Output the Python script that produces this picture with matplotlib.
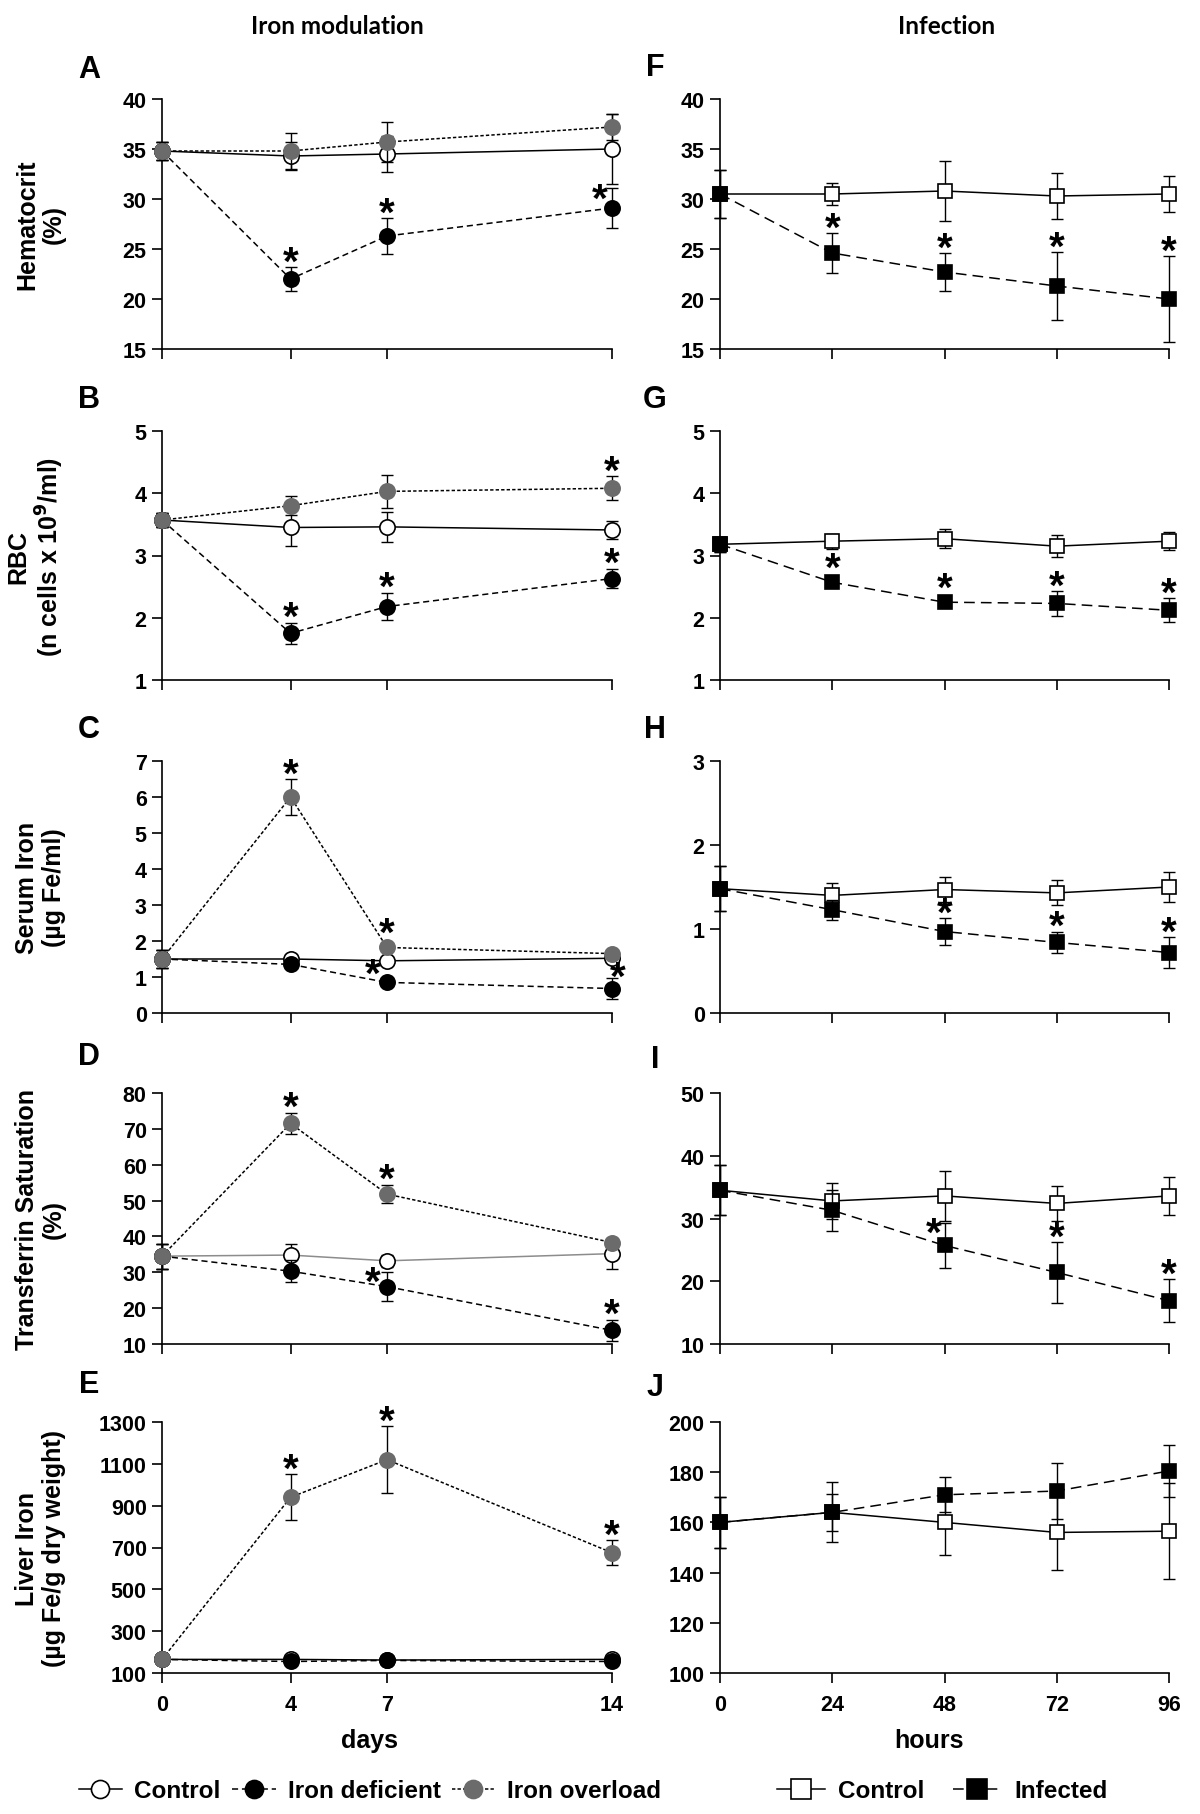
import matplotlib
matplotlib.use("Agg")
import matplotlib.pyplot as plt
from matplotlib.lines import Line2D

plt.rcParams['font.family'] = ['Liberation Sans', 'DejaVu Sans']
plt.rcParams['font.weight'] = 'bold'
plt.rcParams['axes.labelweight'] = 'bold'

# ---------------- data ----------------
days = [0, 4, 7, 14]
hours = [0, 24, 48, 72, 96]

# A Hematocrit (%) - iron modulation
hct_ctrl = [34.8, 34.3, 34.5, 35.0]
hct_ctrl_err = [0.9, 1.4, 1.8, 3.5]
hct_def = [34.8, 22.0, 26.3, 29.1]
hct_def_err = [0.9, 1.2, 1.8, 2.0]
hct_ovl = [34.8, 34.8, 35.7, 37.2]
hct_ovl_err = [0.9, 1.8, 2.0, 1.3]
hct_def_sig = [0, 1, 1, 1]
hct_ovl_sig = [0, 0, 0, 0]

# B RBC
rbc_ctrl = [3.57, 3.45, 3.46, 3.41]
rbc_ctrl_err = [0.12, 0.30, 0.24, 0.15]
rbc_def = [3.57, 1.75, 2.18, 2.63]
rbc_def_err = [0.12, 0.17, 0.22, 0.16]
rbc_ovl = [3.57, 3.80, 4.03, 4.08]
rbc_ovl_err = [0.12, 0.15, 0.26, 0.19]
rbc_def_sig = [0, 1, 1, 1]
rbc_ovl_sig = [0, 0, 0, 1]

# C Serum iron
si_ctrl = [1.50, 1.50, 1.45, 1.52]
si_ctrl_err = [0.25, 0.15, 0.10, 0.08]
si_def = [1.50, 1.35, 0.85, 0.68]
si_def_err = [0.25, 0.08, 0.08, 0.28]
si_ovl = [1.50, 6.00, 1.82, 1.65]
si_ovl_err = [0.25, 0.50, 0.10, 0.08]
si_def_sig = [0, 0, 1, 1]
si_ovl_sig = [0, 1, 1, 0]

# D Transferrin saturation
tsat_ctrl = [34.5, 34.8, 33.2, 35.2]
tsat_ctrl_err = [3.5, 3.0, 1.7, 4.3]
tsat_def = [34.5, 30.3, 26.0, 13.8]
tsat_def_err = [3.5, 3.0, 4.0, 3.0]
tsat_ovl = [34.5, 71.5, 51.8, 38.3]
tsat_ovl_err = [3.5, 3.0, 2.6, 1.0]
tsat_def_sig = [0, 0, 1, 1]
tsat_ovl_sig = [0, 1, 1, 0]

# E Liver iron
li_ctrl = [165, 165, 162, 165]
li_ctrl_err = [8, 6, 6, 6]
li_def = [165, 155, 160, 155]
li_def_err = [8, 6, 6, 6]
li_ovl = [165, 940, 1120, 675]
li_ovl_err = [8, 110, 160, 60]
li_def_sig = [0, 0, 0, 0]
li_ovl_sig = [0, 1, 1, 1]

# F Hematocrit - infection
inf_hct_ctrl = [30.5, 30.5, 30.8, 30.3, 30.5]
inf_hct_ctrl_err = [2.4, 1.1, 3.0, 2.3, 1.8]
inf_hct_inf = [30.5, 24.6, 22.7, 21.3, 20.0]
inf_hct_inf_err = [2.4, 2.0, 1.9, 3.4, 4.3]
inf_hct_sig = [0, 1, 1, 1, 1]

# G RBC - infection
inf_rbc_ctrl = [3.18, 3.23, 3.27, 3.15, 3.23]
inf_rbc_ctrl_err = [0.12, 0.12, 0.15, 0.18, 0.14]
inf_rbc_inf = [3.18, 2.57, 2.25, 2.23, 2.12]
inf_rbc_inf_err = [0.12, 0.04, 0.04, 0.20, 0.19]
inf_rbc_sig = [0, 1, 1, 1, 1]

# H Serum iron - infection
inf_si_ctrl = [1.48, 1.40, 1.47, 1.43, 1.50]
inf_si_ctrl_err = [0.27, 0.15, 0.15, 0.15, 0.18]
inf_si_inf = [1.48, 1.23, 0.97, 0.84, 0.72]
inf_si_inf_err = [0.27, 0.12, 0.16, 0.13, 0.18]
inf_si_sig = [0, 0, 1, 1, 1]

# I Transferrin saturation - infection
inf_tsat_ctrl = [34.5, 32.8, 33.6, 32.4, 33.6]
inf_tsat_ctrl_err = [4.0, 2.9, 4.0, 2.8, 3.0]
inf_tsat_inf = [34.5, 31.3, 25.7, 21.4, 16.9]
inf_tsat_inf_err = [4.0, 3.3, 3.6, 4.8, 3.4]
inf_tsat_sig = [0, 0, 1, 1, 1]

# J Liver iron - infection
inf_li_ctrl = [160, 164, 160, 156, 156.5]
inf_li_ctrl_err = [10, 7.5, 13, 15, 19]
inf_li_inf = [160, 164, 171, 172.5, 180.5]
inf_li_inf_err = [10, 12, 7, 11, 10.5]
inf_li_sig = [0, 0, 0, 0, 0]

left_ylabels = ["Hematocrit\n(%)", "RBC\n(n cells x 10$^{\\mathbf{9}}$/ml)",
                "Serum Iron\n(\u00b5g Fe/ml)", "Transferrin Saturation\n(%)",
                "Liver Iron\n(\u00b5g Fe/g dry weight)"]
left_letters = ["A", "B", "C", "D", "E"]
right_letters = ["F", "G", "H", "I", "J"]
left_ylims = [(15, 40, 5), (1, 5, 1), (0, 7, 1), (10, 80, 10), (100, 1300, 200)]
right_ylims = [(15, 40, 5), (1, 5, 1), (0, 3, 1), (10, 50, 10), (100, 200, 20)]

# ---------------- styles ----------------
GRAY = '#6b6b6b'
sty_ctrl = dict(marker='o', mfc='white', mec='black', color='black', ls='-')
sty_def = dict(marker='o', mfc='black', mec='black', color='black', ls=(0, (4, 2.5)))
sty_ovl = dict(marker='o', mfc=GRAY, mec=GRAY, color='black', ls=(0, (2.2, 1.4)))
sty_ictrl = dict(marker='s', mfc='white', mec='black', color='black', ls='-')
sty_iinf = dict(marker='s', mfc='black', mec='black', color='black', ls=(0, (7, 4)))

MS_C = 11
MS_S = 10.5
STAR_FS = 29
STAR_CENTER = 0.47 * STAR_FS   # asterisk centre above baseline (pt)
TICK_FS = 15.5
LABEL_FS = 18

fig = plt.figure(figsize=(12, 18.15), dpi=100)
W, H = 1200.0, 1815.0
rows = [(100, 350), (432, 681), (762, 1014), (1094, 1345), (1423, 1674)]
LX0, LX1 = 162, 612
RX0, RX1 = 720, 1169


def add_ax(x0, x1, top, bot):
    return fig.add_axes([x0 / W, 1 - bot / H, (x1 - x0) / W, (bot - top) / H])


def draw_series(ax, x, y, e, sty, ms, lw=1.1, z=3):
    ax.plot(x, y, ls=sty['ls'], color=sty['color'], lw=lw, zorder=z, clip_on=False)
    ax.errorbar(x, y, yerr=e, fmt='none', ecolor='black', elinewidth=1.0,
                capsize=4.5, capthick=1.0, zorder=z + 0.1, clip_on=False)
    ax.plot(x, y, ls='none', marker=sty['marker'], ms=ms, mfc=sty['mfc'],
            mec=sty['mec'], mew=1.2, zorder=z + 0.2, clip_on=False)


def draw_stars(ax, x, y, e, sig, ms, offsets=None):
    offsets = offsets or {}
    lo, hi = ax.get_ylim()
    pts_per_unit = ax.get_position().height * fig.get_figheight() * 72.0 / (hi - lo)
    for i, s in enumerate(sig):
        if not s:
            continue
        if i in offsets:
            dx, gap = offsets[i]
            base = 0.0
        else:
            dx, gap = 0.0, 9.0
            # clear the marker when the error bar is tiny
            base = max(0.0, ms / 2.0 + 1.0 - e[i] * pts_per_unit)
        ax.annotate('*', xy=(x[i], y[i] + e[i]), xytext=(dx, base + gap - STAR_CENTER),
                    textcoords='offset points', ha='center', va='baseline',
                    fontsize=STAR_FS, fontweight='bold', zorder=10,
                    annotation_clip=False)


def style_axis(ax, xt, ylim, bottom_row):
    lo, hi, step = ylim
    ax.set_ylim(lo, hi)
    ticks = []
    v = lo
    while v <= hi + 1e-9:
        ticks.append(v)
        v += step
    ax.set_yticks(ticks)
    ax.set_yticklabels([("%g" % t) for t in ticks])
    ax.set_xlim(xt[0], xt[-1])
    ax.set_xticks(xt)
    if bottom_row:
        ax.set_xticklabels([str(t) for t in xt])
    else:
        ax.set_xticklabels([])
    for s in ['top', 'right']:
        ax.spines[s].set_visible(False)
    for s in ['left', 'bottom']:
        ax.spines[s].set_linewidth(1.2)
    ax.tick_params(direction='out', length=7, width=1.2, labelsize=TICK_FS, pad=4)
    ax.tick_params(axis='x', pad=8)
    ax.patch.set_alpha(0)


left_data = [
    (hct_ctrl, hct_ctrl_err, hct_def, hct_def_err, hct_ovl, hct_ovl_err, hct_def_sig, hct_ovl_sig),
    (rbc_ctrl, rbc_ctrl_err, rbc_def, rbc_def_err, rbc_ovl, rbc_ovl_err, rbc_def_sig, rbc_ovl_sig),
    (si_ctrl, si_ctrl_err, si_def, si_def_err, si_ovl, si_ovl_err, si_def_sig, si_ovl_sig),
    (tsat_ctrl, tsat_ctrl_err, tsat_def, tsat_def_err, tsat_ovl, tsat_ovl_err, tsat_def_sig, tsat_ovl_sig),
    (li_ctrl, li_ctrl_err, li_def, li_def_err, li_ovl, li_ovl_err, li_def_sig, li_ovl_sig),
]
right_data = [
    (inf_hct_ctrl, inf_hct_ctrl_err, inf_hct_inf, inf_hct_inf_err, inf_hct_sig),
    (inf_rbc_ctrl, inf_rbc_ctrl_err, inf_rbc_inf, inf_rbc_inf_err, inf_rbc_sig),
    (inf_si_ctrl, inf_si_ctrl_err, inf_si_inf, inf_si_inf_err, inf_si_sig),
    (inf_tsat_ctrl, inf_tsat_ctrl_err, inf_tsat_inf, inf_tsat_inf_err, inf_tsat_sig),
    (inf_li_ctrl, inf_li_ctrl_err, inf_li_inf, inf_li_inf_err, inf_li_sig),
]

# star position tweaks (styling only): (dx pt, star-centre gap above bar top pt)
def_star_off = {0: {3: (-9, -3)}, 2: {2: (-10, 9), 3: (4, 6)}, 3: {2: (-10, -2)}}
inf_star_off = {3: {2: (-8, -2)}}

letter_y_left = [70, 400, 730, 1057, 1385]
letter_y_right = [68, 400, 730, 1060, 1388]

for r in range(5):
    top, bot = rows[r]
    # left column
    ax = add_ax(LX0, LX1, top, bot)
    c, ce, d, de, o, oe, dsig, osig = left_data[r]
    style_axis(ax, days, left_ylims[r], r == 4)
    ctrl_sty = dict(sty_ctrl)
    if r == 3:
        ctrl_sty['color'] = '#8c8c8c'
    draw_series(ax, days, c, ce, ctrl_sty, MS_C, z=3)
    draw_series(ax, days, d, de, sty_def, MS_C, z=4)
    draw_series(ax, days, o, oe, sty_ovl, MS_C, z=5)
    draw_stars(ax, days, d, de, dsig, MS_C, def_star_off.get(r))
    draw_stars(ax, days, o, oe, osig, MS_C)
    ax.set_ylabel(left_ylabels[r], fontsize=LABEL_FS, fontweight='bold', linespacing=1.15)
    ax.yaxis.set_label_coords(-0.213, 0.5)
    if r == 4:
        ax.set_xlabel('days', fontsize=LABEL_FS, fontweight='bold')
        ax.xaxis.set_label_coords(0.46, -0.22)
    fig.text(89 / W, 1 - letter_y_left[r] / H, left_letters[r], fontsize=22,
             fontweight='bold', ha='center', va='center')

    # right column
    ax2 = add_ax(RX0, RX1, top, bot)
    c, ce, i_, ie, isig = right_data[r]
    style_axis(ax2, hours, right_ylims[r], r == 4)
    draw_series(ax2, hours, c, ce, sty_ictrl, MS_S, z=3)
    draw_series(ax2, hours, i_, ie, sty_iinf, MS_S, z=4)
    draw_stars(ax2, hours, i_, ie, isig, MS_S, inf_star_off.get(r))
    if r == 4:
        ax2.set_xlabel('hours', fontsize=LABEL_FS, fontweight='bold')
        ax2.xaxis.set_label_coords(0.465, -0.22)
    fig.text(655 / W, 1 - letter_y_right[r] / H, right_letters[r], fontsize=22,
             fontweight='bold', ha='center', va='center')

# column titles
fig.text(337 / W, 1 - 27 / H, 'Iron modulation', fontsize=17.5, fontweight='bold',
         family=['Lato', 'DejaVu Sans'], ha='center', va='center')
fig.text(947 / W, 1 - 27 / H, 'Infection', fontsize=17.5, fontweight='bold',
         family=['Lato', 'DejaVu Sans'], ha='center', va='center')

# legends
def handle(sty, ms):
    return Line2D([], [], color=sty['color'], ls=sty['ls'], lw=1.1, marker=sty['marker'],
                  ms=ms, mfc=sty['mfc'], mec=sty['mec'], mew=1.2)

fig.legend([handle(sty_ctrl, 13), handle(sty_def, 13), handle(sty_ovl, 13)],
           ['Control', 'Iron deficient', 'Iron overload'],
           loc='center', bbox_to_anchor=(370 / W, 1 - 1792 / H), ncol=3,
           frameon=False, fontsize=17.5, handlelength=1.8, handletextpad=0.5,
           columnspacing=0.45)
fig.legend([handle(sty_ictrl, 14), handle(sty_iinf, 14)],
           ['Control', 'Infected'],
           loc='center', bbox_to_anchor=(942 / W, 1 - 1792 / H), ncol=2,
           frameon=False, fontsize=17.5, handlelength=2.0, handletextpad=0.5,
           columnspacing=1.2)

fig.savefig('out.png', dpi=100, facecolor='white')
